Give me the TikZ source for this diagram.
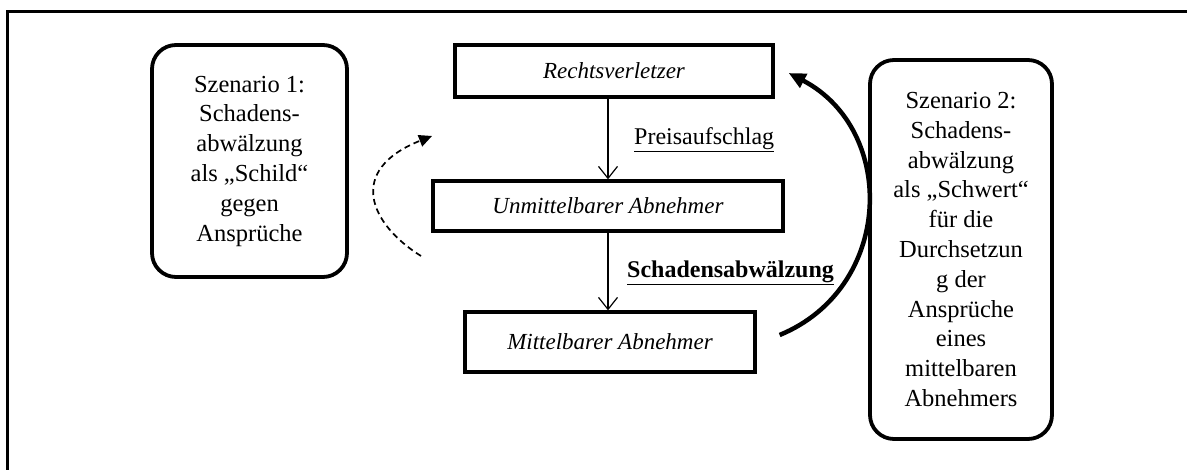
\documentclass[tikz,border=0pt]{standalone}
\usepackage{fontspec}
\setmainfont{Liberation Serif}
\usetikzlibrary{arrows.meta}
\begin{document}
\begin{tikzpicture}[x=1pt,y=-1pt,
  flowbox/.style={draw, line width=3.3pt, inner sep=0pt, minimum height=#1,
    font=\fontsize{23}{27}\selectfont\itshape},
  scenbox/.style={draw, line width=3.8pt, rounded corners=24pt, inner sep=0pt,
    align=center, font=\fontsize{24.5}{29.8}\selectfont},
  lbl/.style={inner sep=0pt, font=\fontsize{24}{29}\selectfont},
  thinarrow/.style={line width=1.2pt, -{Straight Barb[length=12pt,width=19pt]}},
  thickarc/.style={line width=4.5pt, -{Triangle[length=17pt,width=15pt]}},
  dasharc/.style={line width=1.7pt, dash pattern=on 6pt off 4pt, -{Triangle[length=13pt,width=12pt]}},
  framestyle/.style={line width=3pt}
]
\useasboundingbox (0,0) rectangle (1187,470);
\fill[white] (0,0) rectangle (1187,470);
% outer frame
\draw[framestyle] (7,472) -- (7,12) -- (1189,12);

% chain boxes
\node[flowbox=52pt, minimum width=318pt] (R) at (614,71) {Rechtsverletzer};
\node[flowbox=50pt, minimum width=350pt] (U) at (608,206) {Unmittelbarer Abnehmer};
\node[flowbox=60pt, minimum width=290pt] (M) at (610,342) {Mittelbarer Abnehmer};

% scenario boxes
\node[scenbox, minimum width=195pt, minimum height=232pt] (S1) at (249.5,161)
  {Szenario 1:\\Schadens-\\abwälzung\\als „Schild“\\gegen\\Ansprüche};
\node[scenbox, minimum width=182pt, minimum height=379pt] (S2) at (961,249.5)
  {Szenario 2:\\Schadens-\\abwälzung\\als „Schwert“\\für die\\Durchsetzun\\g der\\Ansprüche\\eines\\mittelbaren\\Abnehmers};

% labels
\node[lbl, anchor=base west] (pa) at (634,145) {\underline{Preisaufschlag}};
\node[lbl, anchor=base west] (sa) at (627,278) {\underline{\textbf{Schadensabwälzung}}};

% vertical arrows
\draw[thinarrow] (U.north |- R.south) -- (U.north);
\draw[thinarrow] (U.south) -- (U.south |- M.north);

% thick arc from M to R
\coordinate (a1) at ([shift={(23,-7)}]M.east);
\coordinate (a2) at ([shift={(14,2)}]R.east);
\draw[thickarc] (a1) .. controls +(114,-47) and +(109,57) .. (a2);

% dashed arc
\coordinate (d1) at (421,256);
\coordinate (d2) at (432,136);
\draw[dasharc] (d1) .. controls +(-50.8,-31.7) and +(-86.4,34.4) .. (d2);
\end{tikzpicture}
\end{document}
